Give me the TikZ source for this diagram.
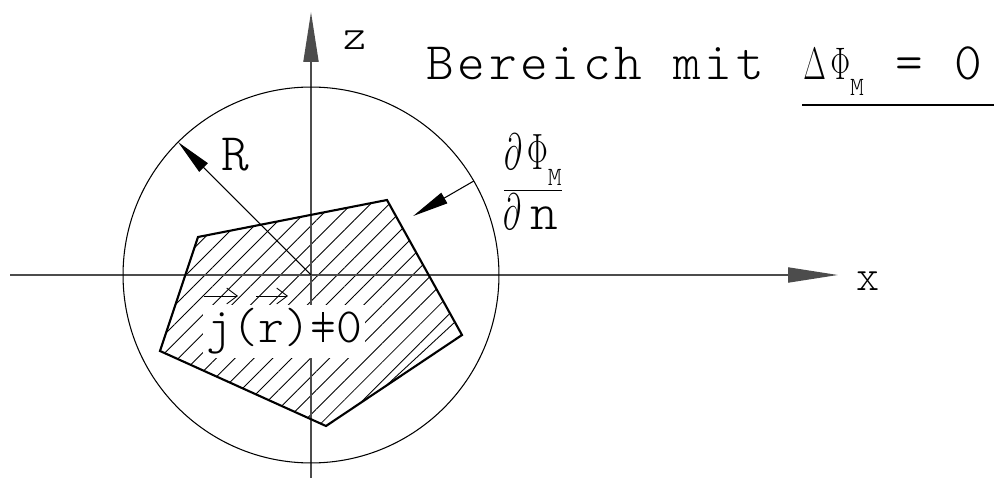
\documentclass[tikz,border=0pt]{standalone}
\usepackage{graphicx}
\usepackage{fontspec}
\setmainfont[LetterSpace=7]{lmmonolt10-regular.otf}
\newfontfamily\cadtight{lmmonolt10-regular.otf}
\usetikzlibrary{arrows.meta,patterns.meta,calc}
\newcommand\subM{\raisebox{-0.3em}{\fontsize{15}{16}\selectfont M}}
\newcommand\grk[1]{\scalebox{0.8}[1.25]{\fontsize{20.74}{24}\selectfont$#1$}}
\newcommand\grkbig[1]{\scalebox{0.85}[1.4]{\fontsize{20.74}{24}\selectfont$#1$}}
\newcommand\cadneq{\ooalign{=\cr\hidewidth\rule[0.02em]{0.035em}{0.62em}\hidewidth\cr}}

\begin{document}
\begin{tikzpicture}[x=0.02cm,y=0.02cm,
    lbl/.style={inner sep=0pt,font=\fontsize{30}{34}\selectfont},
    small lbl/.style={inner sep=0pt,font=\fontsize{25}{28}\selectfont},
    axis/.style={draw=black!70,line width=1.1pt,-{Triangle[length=1cm,width=0.3cm]}},
    ptr/.style={line width=0.6pt,-{Triangle[length=0.72cm,width=0.24cm]}},
    vecbar/.style={line width=0.5pt,-{Straight Barb[length=6pt,width=9pt]}},
    hatch/.style={pattern={Lines[angle=45,distance=7.6pt,line width=0.5pt]}}]
  \useasboundingbox (0,0) rectangle (994,480);
  \coordinate (C) at (311,205);
  \coordinate (P1) at (198,243);
  \coordinate (P2) at (387,280);
  \coordinate (P3) at (462,145);
  \coordinate (P4) at (326,54);
  \coordinate (P5) at (160,129);
  \coordinate (H3) at (455,158);
  \coordinate (H4) at (388,96);
  % hatched region
  \fill[hatch] (P1) -- (P2) -- (H3) -- (H4) -- (P4) -- (P5) -- cycle;
  \draw[line width=0.5pt] (H3) -- (H4);
  % axes
  \coordinate (xfoot) at (10,205);
  \coordinate (xtip) at (838,205);
  \coordinate (zfoot) at (311,2);
  \coordinate (ztip) at (311,468);
  \draw[axis] (xfoot) -- (xtip);
  \draw[axis] (zfoot) -- (ztip);
  \node[small lbl] (xlab) at (868,199) {x};
  \node[small lbl] (zlab) at (355,440) {z};
  % sphere and body
  \draw[line width=0.6pt] (C) circle[radius=3.76cm];
  \draw[line width=1.2pt,line join=miter] (P1) -- (P2) -- (P3) -- (P4) -- (P5) -- cycle;
  \coordinate (rtip) at ($(C)+(135:3.76cm)$);
  \draw[ptr] (C) -- (rtip);
  \node[lbl] (rlab) at (235,325) {R};
  \coordinate (nfoot) at ($(C)+(30:3.76cm)$);
  \coordinate (ntip) at ($(C)+(30:2.36cm)$);
  \draw[ptr] (nfoot) -- (ntip);
  % labels
  \node[lbl,font={\cadtight\fontsize{28}{32}\selectfont},fill=white,inner sep=2pt,
        anchor=base west] (cur) at (203,137) {j(r)\cadneq0};
  \draw[vecbar] ([shift={(1,47)}]cur.base west) -- ++(34,0);
  \draw[vecbar] ([shift={(53,47)}]cur.base west) -- ++(32,0);
  \node[lbl,anchor=base] (num) at (533,310) {\grkbig{\partial\,\Phi}\subM};
  \node[lbl,anchor=base] (den) at (531,250) {\grkbig{\partial}\,n};
  \draw[line width=0.6pt] ($(num.south west)+(0,-4)$) -- ($(num.south east)+(0,-4)$);
  \node[lbl,anchor=base west] (title) at (426,400) {Bereich mit};
  \node[lbl,anchor=base west] (eq) at (803,400) {\grk{\Delta\,\Phi}\subM{} = 0};
  \coordinate (ulL) at (802,375);
  \coordinate (ulR) at (994,375);
  \draw[line width=1.2pt] (ulL) -- (ulR);
\end{tikzpicture}
\end{document}
